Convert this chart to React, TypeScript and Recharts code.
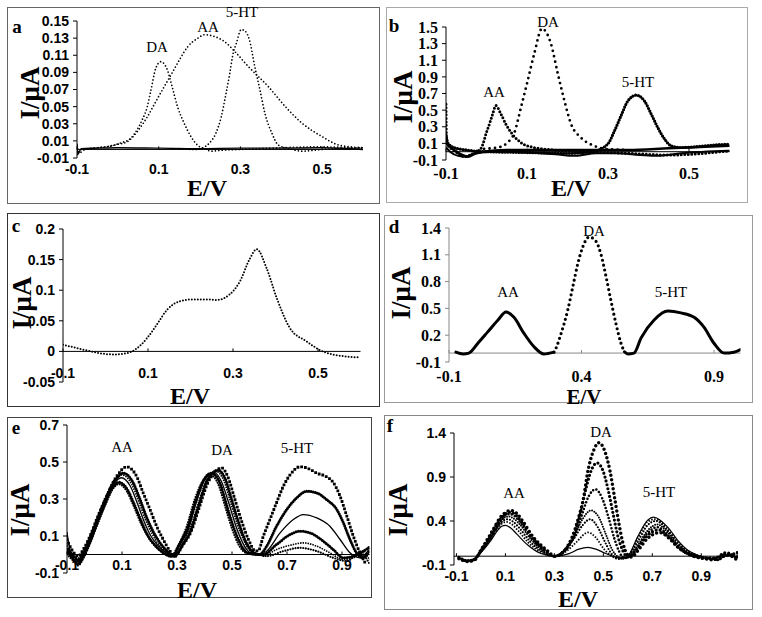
import React from 'react';
import { LineChart, Line, XAxis, YAxis, ReferenceLine } from 'recharts';

type P = [number, number];

// ---------------- panel a ----------------
const aTicksX = [-0.1, 0.1, 0.3, 0.5];
const aTicksY = [-0.01, 0.01, 0.03, 0.05, 0.07, 0.09, 0.11, 0.13, 0.15];
const aDA: P[] = [[-0.1, 0.005], [-0.095, -0.004], [-0.08, 0.0], [-0.05, 0.002], [-0.026, 0.003], [0.006, 0.0075], [0.031, 0.013], [0.047, 0.023], [0.059, 0.034], [0.072, 0.05], [0.08, 0.067], [0.093, 0.095], [0.105, 0.1025], [0.121, 0.093], [0.133, 0.073], [0.146, 0.05], [0.162, 0.031], [0.179, 0.015], [0.195, 0.005], [0.211, 0.001], [0.23, -0.002], [0.25, -0.001], [0.3, 0.0], [0.4, 0.002], [0.5, 0.003], [0.6, 0.001]];
const aAA: P[] = [[-0.1, -0.006], [-0.09, 0.0], [-0.05, 0.002], [-0.02, 0.004], [0.0, 0.006], [0.023, 0.009], [0.051, 0.023], [0.072, 0.038], [0.093, 0.056], [0.113, 0.073], [0.13, 0.087], [0.15, 0.104], [0.171, 0.12], [0.196, 0.13], [0.212, 0.134], [0.236, 0.132], [0.261, 0.126], [0.287, 0.114], [0.319, 0.097], [0.369, 0.073], [0.41, 0.05], [0.45, 0.031], [0.5, 0.015], [0.542, 0.005], [0.6, 0.002]];
const a5HT: P[] = [[0.15, 0.001], [0.19, 0.0], [0.208, 0.002], [0.224, 0.0075], [0.24, 0.019], [0.253, 0.038], [0.265, 0.066], [0.274, 0.089], [0.282, 0.112], [0.29, 0.124], [0.302, 0.14], [0.312, 0.138], [0.322, 0.128], [0.335, 0.097], [0.348, 0.069], [0.36, 0.042], [0.377, 0.019], [0.393, 0.005], [0.42, 0.001], [0.45, -0.002], [0.5, 0.0], [0.6, 0.002]];
const aBlank: P[] = [[-0.1, 0.006], [-0.098, -0.006], [-0.09, 0.001], [-0.05, 0.0015], [0.0, 0.002], [0.1, 0.0015], [0.2, 0.001], [0.3, 0.0015], [0.4, 0.0015], [0.5, 0.002], [0.6, 0.0]];

// ---------------- panel b ----------------
const bTicksX = [-0.1, 0.1, 0.3, 0.5];
const bTicksY = [-0.1, 0.1, 0.3, 0.5, 0.7, 0.9, 1.1, 1.3, 1.5];
const bDA: P[] = [[-0.006, 0.035], [0.028, 0.05], [0.052, 0.11], [0.069, 0.23], [0.085, 0.53], [0.1, 0.82], [0.118, 1.18], [0.137, 1.48], [0.159, 1.3], [0.176, 0.94], [0.192, 0.62], [0.209, 0.33], [0.233, 0.17], [0.266, 0.07], [0.299, 0.03], [0.35, 0.02]];
const bAA: P[] = [[-0.1, 0.57], [-0.099, 0.18], [-0.095, 0.08], [-0.085, 0.03], [-0.07, -0.02], [-0.055, -0.06], [-0.04, -0.04], [-0.025, 0.0], [-0.015, 0.03], [-0.009, 0.09], [-0.001, 0.22], [0.007, 0.33], [0.015, 0.45], [0.023, 0.555], [0.036, 0.45], [0.048, 0.33], [0.064, 0.21], [0.085, 0.11], [0.117, 0.05], [0.167, 0.02], [0.25, 0.0], [0.35, -0.02], [0.45, -0.04], [0.6, 0.01]];
const b5HT: P[] = [[-0.1, 0.2], [-0.095, 0.1], [-0.08, 0.05], [-0.05, 0.02], [0.0, 0.0], [0.1, -0.01], [0.2, -0.02], [0.26, 0.0], [0.299, 0.09], [0.316, 0.25], [0.332, 0.43], [0.349, 0.61], [0.37, 0.68], [0.39, 0.61], [0.407, 0.45], [0.423, 0.29], [0.44, 0.15], [0.456, 0.07], [0.48, 0.05], [0.52, 0.06], [0.56, 0.08], [0.6, 0.09]];
const bBase1: P[] = [[-0.1, 0.1], [-0.09, 0.06], [-0.08, 0.02], [-0.06, -0.04], [-0.045, -0.06], [-0.03, -0.03], [-0.01, 0.0], [0.05, 0.02], [0.15, 0.02], [0.25, 0.02], [0.35, 0.02], [0.45, 0.04], [0.6, 0.07]];
const bBase2: P[] = [[-0.1, 0.05], [-0.09, 0.0], [-0.07, -0.05], [-0.05, -0.06], [-0.03, -0.02], [0.02, 0.0], [0.1, -0.01], [0.17, -0.03], [0.22, -0.05], [0.27, -0.02], [0.32, -0.02], [0.38, -0.04], [0.42, -0.05], [0.48, -0.02], [0.6, 0.01]];

// ---------------- panel c ----------------
const cTicksX = [-0.1, 0.1, 0.3, 0.5];
const cTicksY = [-0.05, 0, 0.05, 0.1, 0.15, 0.2];
const cMix: P[] = [[-0.1, 0.011], [-0.053, 0.003], [-0.013, -0.003], [0.018, -0.005], [0.05, -0.003], [0.074, 0.005], [0.097, 0.021], [0.121, 0.044], [0.145, 0.068], [0.175, 0.082], [0.206, 0.085], [0.238, 0.085], [0.262, 0.084], [0.292, 0.093], [0.316, 0.114], [0.34, 0.152], [0.356, 0.167], [0.379, 0.136], [0.403, 0.087], [0.434, 0.038], [0.474, 0.016], [0.505, 0.002], [0.535, -0.005], [0.6, -0.01]];

// ---------------- panel d ----------------
const dTicksX = [-0.1, 0.4, 0.9];
const dTicksY = [-0.1, 0.2, 0.5, 0.8, 1.1, 1.4];
const dAA: P[] = [[-0.074, 0.01], [-0.047, -0.01], [-0.025, 0.0], [0.009, 0.11], [0.047, 0.24], [0.085, 0.37], [0.115, 0.46], [0.145, 0.4], [0.183, 0.22], [0.221, 0.07], [0.258, -0.01], [0.296, 0.01]];
const dDA: P[] = [[0.296, 0.01], [0.304, 0.056], [0.323, 0.22], [0.348, 0.48], [0.367, 0.74], [0.386, 1.0], [0.405, 1.19], [0.429, 1.3], [0.455, 1.25], [0.474, 1.1], [0.493, 0.85], [0.511, 0.59], [0.53, 0.33], [0.549, 0.11], [0.562, 0.015]];
const d5HT: P[] = [[0.562, 0.015], [0.575, -0.01], [0.598, 0.0], [0.625, 0.17], [0.674, 0.37], [0.726, 0.47], [0.775, 0.45], [0.825, 0.4], [0.862, 0.29], [0.9, 0.11], [0.938, 0.0], [0.975, 0.01], [1.0, 0.04]];

// ---------------- panel e ----------------
const eTicksX = [-0.1, 0.1, 0.3, 0.5, 0.7, 0.9];
const eTicksY = [-0.1, 0.1, 0.3, 0.5, 0.7];
const e1: P[] = [[-0.1, 0.08], [-0.083, 0.027], [-0.059, -0.009], [-0.041, 0.027], [-0.016, 0.1], [0.008, 0.19], [0.044, 0.315], [0.081, 0.423], [0.117, 0.474], [0.153, 0.423], [0.177, 0.333], [0.202, 0.243], [0.226, 0.153], [0.25, 0.081], [0.275, 0.018], [0.293, -0.009], [0.32, 0.05], [0.35, 0.12], [0.38, 0.25], [0.41, 0.38], [0.44, 0.45], [0.462, 0.468], [0.485, 0.42], [0.51, 0.3], [0.535, 0.18], [0.56, 0.08], [0.585, 0.02], [0.595, 0.02], [0.614, 0.099], [0.638, 0.19], [0.662, 0.28], [0.687, 0.37], [0.711, 0.43], [0.747, 0.474], [0.772, 0.468], [0.808, 0.44], [0.844, 0.42], [0.868, 0.39], [0.893, 0.315], [0.917, 0.21], [0.941, 0.1], [0.965, 0.01], [0.984, -0.045]];
const e2: P[] = [[-0.1, 0.03], [-0.08, 0.0], [-0.06, -0.03], [-0.04, 0.01], [-0.016, 0.09], [0.008, 0.18], [0.044, 0.31], [0.075, 0.4], [0.105, 0.44], [0.14, 0.39], [0.165, 0.3], [0.19, 0.2], [0.215, 0.12], [0.24, 0.06], [0.27, 0.01], [0.29, -0.01], [0.32, 0.05], [0.35, 0.13], [0.38, 0.27], [0.41, 0.4], [0.45, 0.455], [0.475, 0.41], [0.5, 0.29], [0.525, 0.17], [0.55, 0.07], [0.575, 0.015], [0.6, 0.0], [0.626, 0.045], [0.662, 0.153], [0.699, 0.243], [0.735, 0.306], [0.772, 0.342], [0.808, 0.333], [0.844, 0.297], [0.881, 0.243], [0.905, 0.171], [0.929, 0.081], [0.953, 0.009], [0.977, -0.018], [1.0, 0.02]];
const e3: P[] = [[-0.1, 0.12], [-0.085, 0.0], [-0.06, -0.04], [-0.04, 0.0], [-0.016, 0.08], [0.01, 0.18], [0.04, 0.29], [0.07, 0.38], [0.097, 0.415], [0.13, 0.37], [0.155, 0.28], [0.18, 0.18], [0.205, 0.1], [0.23, 0.05], [0.26, 0.01], [0.285, -0.01], [0.31, 0.05], [0.34, 0.13], [0.37, 0.28], [0.4, 0.4], [0.432, 0.445], [0.46, 0.4], [0.49, 0.27], [0.515, 0.15], [0.54, 0.06], [0.565, 0.01], [0.6, 0.0], [0.626, 0.018], [0.675, 0.117], [0.723, 0.189], [0.759, 0.216], [0.808, 0.198], [0.856, 0.153], [0.893, 0.081], [0.929, 0.009], [0.965, -0.018], [1.0, 0.03]];
const e4: P[] = [[-0.1, 0.02], [-0.08, -0.02], [-0.06, -0.05], [-0.04, -0.01], [-0.016, 0.07], [0.01, 0.17], [0.04, 0.28], [0.065, 0.36], [0.09, 0.39], [0.12, 0.35], [0.145, 0.27], [0.17, 0.18], [0.195, 0.1], [0.22, 0.05], [0.25, 0.01], [0.28, -0.01], [0.31, 0.06], [0.34, 0.15], [0.37, 0.3], [0.4, 0.41], [0.425, 0.44], [0.455, 0.39], [0.48, 0.27], [0.505, 0.15], [0.53, 0.06], [0.555, 0.01], [0.59, 0.0], [0.614, 0.0], [0.662, 0.054], [0.711, 0.108], [0.747, 0.126], [0.784, 0.117], [0.832, 0.072], [0.868, 0.027], [0.905, -0.018], [0.941, -0.009], [1.0, 0.04]];
const e5: P[] = [[-0.1, 0.05], [-0.08, 0.0], [-0.06, -0.02], [-0.04, 0.02], [-0.016, 0.1], [0.01, 0.2], [0.04, 0.31], [0.07, 0.4], [0.1, 0.43], [0.135, 0.38], [0.16, 0.29], [0.185, 0.19], [0.21, 0.11], [0.235, 0.05], [0.265, 0.01], [0.29, -0.01], [0.32, 0.06], [0.35, 0.15], [0.38, 0.29], [0.41, 0.41], [0.44, 0.45], [0.47, 0.4], [0.495, 0.28], [0.52, 0.16], [0.545, 0.07], [0.57, 0.015], [0.6, 0.0], [0.614, -0.009], [0.662, 0.027], [0.723, 0.054], [0.759, 0.063], [0.808, 0.045], [0.856, 0.009], [0.905, -0.027], [0.941, -0.018], [0.977, 0.018], [1.0, -0.03]];
const e6: P[] = [[-0.1, 0.0], [-0.08, -0.03], [-0.06, -0.06], [-0.04, -0.02], [-0.016, 0.06], [0.01, 0.16], [0.04, 0.27], [0.065, 0.35], [0.088, 0.38], [0.118, 0.34], [0.143, 0.26], [0.168, 0.17], [0.193, 0.1], [0.218, 0.05], [0.248, 0.01], [0.278, -0.01], [0.305, 0.05], [0.335, 0.15], [0.365, 0.3], [0.395, 0.4], [0.42, 0.43], [0.45, 0.38], [0.475, 0.26], [0.5, 0.14], [0.525, 0.05], [0.55, 0.01], [0.6, 0.0], [0.626, -0.009], [0.687, 0.018], [0.747, 0.036], [0.808, 0.018], [0.868, -0.018], [0.917, -0.036], [0.965, 0.009], [1.0, -0.05]];

// ---------------- panel f ----------------
const fTicksX = [-0.1, 0.1, 0.3, 0.5, 0.7, 0.9];
const fTicksY = [-0.1, 0.4, 0.9, 1.4];
const f1: P[] = [[-0.09, -0.02], [-0.054, -0.06], [-0.027, -0.045], [0.0, 0.07], [0.041, 0.26], [0.082, 0.45], [0.105, 0.505], [0.123, 0.52], [0.145, 0.49], [0.17, 0.4], [0.213, 0.22], [0.269, 0.068], [0.303, 0.0], [0.34, 0.06], [0.37, 0.2], [0.4, 0.45], [0.417, 0.63], [0.437, 0.97], [0.46, 1.2], [0.482, 1.29], [0.505, 1.2], [0.527, 0.97], [0.548, 0.63], [0.565, 0.35], [0.58, 0.15], [0.595, 0.03], [0.615, -0.01], [0.64, 0.06], [0.68, 0.2], [0.73, 0.27], [0.77, 0.2], [0.81, 0.09], [0.85, 0.02], [0.9, -0.02], [0.95, -0.04], [1.0, 0.02], [1.05, -0.05]];
const f2: P[] = [[-0.09, -0.03], [-0.054, -0.055], [-0.027, -0.04], [0.0, 0.065], [0.041, 0.25], [0.082, 0.43], [0.103, 0.485], [0.12, 0.5], [0.142, 0.47], [0.167, 0.385], [0.21, 0.21], [0.265, 0.06], [0.3, 0.0], [0.34, 0.06], [0.37, 0.18], [0.4, 0.42], [0.43, 0.78], [0.45, 0.97], [0.474, 1.06], [0.5, 0.96], [0.52, 0.75], [0.54, 0.48], [0.56, 0.22], [0.58, 0.06], [0.6, -0.01], [0.635, 0.07], [0.675, 0.22], [0.725, 0.3], [0.765, 0.22], [0.805, 0.1], [0.845, 0.03], [0.895, -0.02], [0.95, -0.03], [1.0, 0.04], [1.05, -0.03]];
const f3: P[] = [[-0.09, -0.01], [-0.054, -0.05], [-0.027, -0.035], [0.0, 0.06], [0.041, 0.24], [0.082, 0.41], [0.1, 0.465], [0.118, 0.48], [0.14, 0.45], [0.165, 0.37], [0.208, 0.2], [0.262, 0.055], [0.3, 0.0], [0.34, 0.06], [0.38, 0.22], [0.41, 0.45], [0.44, 0.68], [0.468, 0.76], [0.495, 0.66], [0.52, 0.45], [0.545, 0.2], [0.565, 0.05], [0.585, -0.02], [0.61, 0.0], [0.64, 0.1], [0.68, 0.26], [0.72, 0.33], [0.76, 0.25], [0.8, 0.12], [0.84, 0.04], [0.89, -0.01], [0.95, -0.02], [1.0, 0.0], [1.05, 0.05]];
const f4: P[] = [[-0.09, -0.02], [-0.054, -0.05], [-0.027, -0.03], [0.0, 0.055], [0.041, 0.22], [0.08, 0.39], [0.098, 0.44], [0.115, 0.45], [0.137, 0.42], [0.162, 0.35], [0.205, 0.19], [0.26, 0.05], [0.3, 0.0], [0.34, 0.07], [0.38, 0.22], [0.415, 0.42], [0.45, 0.52], [0.48, 0.45], [0.51, 0.25], [0.535, 0.08], [0.56, -0.01], [0.58, -0.03], [0.605, 0.0], [0.64, 0.12], [0.68, 0.29], [0.72, 0.36], [0.76, 0.28], [0.8, 0.14], [0.84, 0.05], [0.885, 0.0], [0.93, -0.03], [0.98, 0.0], [1.05, 0.03]];
const f5: P[] = [[-0.09, -0.03], [-0.054, -0.06], [-0.027, -0.04], [0.0, 0.05], [0.041, 0.21], [0.078, 0.37], [0.095, 0.41], [0.11, 0.42], [0.132, 0.39], [0.157, 0.32], [0.2, 0.17], [0.255, 0.045], [0.3, 0.0], [0.34, 0.06], [0.38, 0.2], [0.415, 0.35], [0.446, 0.42], [0.475, 0.34], [0.505, 0.17], [0.53, 0.04], [0.56, -0.03], [0.6, 0.0], [0.64, 0.16], [0.68, 0.35], [0.715, 0.4], [0.76, 0.3], [0.8, 0.16], [0.845, 0.055], [0.885, 0.005], [0.93, -0.025], [0.97, -0.045], [1.0, 0.01], [1.05, -0.01]];
const f6: P[] = [[-0.09, -0.01], [-0.054, -0.045], [-0.027, -0.03], [0.0, 0.045], [0.041, 0.2], [0.075, 0.34], [0.09, 0.38], [0.105, 0.39], [0.127, 0.36], [0.152, 0.29], [0.195, 0.15], [0.25, 0.04], [0.3, 0.0], [0.35, 0.06], [0.39, 0.16], [0.437, 0.27], [0.47, 0.21], [0.5, 0.09], [0.53, 0.01], [0.56, -0.03], [0.6, 0.0], [0.64, 0.2], [0.68, 0.39], [0.71, 0.42], [0.76, 0.32], [0.8, 0.17], [0.845, 0.06], [0.885, 0.01], [0.93, -0.02], [0.97, -0.04], [1.0, 0.02], [1.05, 0.0]];
const f7: P[] = [[-0.09, -0.02], [-0.054, -0.05], [-0.027, -0.035], [0.0, 0.04], [0.041, 0.18], [0.07, 0.3], [0.085, 0.34], [0.1, 0.35], [0.122, 0.32], [0.147, 0.25], [0.19, 0.13], [0.245, 0.03], [0.3, 0.0], [0.36, 0.03], [0.4, 0.08], [0.437, 0.1], [0.47, 0.08], [0.51, 0.03], [0.55, -0.01], [0.58, -0.02], [0.6, 0.0], [0.64, 0.22], [0.681, 0.41], [0.705, 0.445], [0.763, 0.33], [0.804, 0.18], [0.845, 0.068], [0.885, 0.011], [0.928, -0.02], [0.968, -0.045], [1.0, 0.011], [1.05, -0.02]];

// ---------------- rendering ----------------
const SANS = '"Liberation Sans", Arial, sans-serif';
const SERIF = '"Liberation Serif", "Times New Roman", serif';

interface Series { data: P[]; w: number; dash?: string; cap?: 'round' | 'square' | 'butt'; }
interface Note { text: string; x: number; y: number; }
interface PanelCfg {
  letter: string;
  letterPos: [number, number];
  box: [number, number, number, number];
  border: string;
  plot: [number, number, number, number];
  xDomain: [number, number];
  yDomain: [number, number];
  xTicks: number[];
  yTicks: number[];
  tickFont: string;
  tickSize: number;
  xLabelY: number;
  axisColor: string;
  series: Series[];
  notes: Note[];
  xTitle: [number, number];
  xTitleSize?: number;
  yTitle: [number, number];
}

const toXY = (arr: P[]) => arr.map(([x, y]) => ({ x, y }));

const dots = (data: P[], w: number, gap: number, cap: 'round' | 'square' = 'round'): Series => ({ data, w, dash: `0 ${gap}`, cap });
const solid = (data: P[], w: number): Series => ({ data, w });
const dashed = (data: P[], w: number, dash: string): Series => ({ data, w, dash, cap: 'butt' });

const panels: PanelCfg[] = [
  {
    letter: 'a', letterPos: [17, 26], box: [7, 7, 380, 204], border: '#666', plot: [77, 21, 363, 158],
    xDomain: [-0.1, 0.6], yDomain: [-0.01, 0.15], xTicks: aTicksX, yTicks: aTicksY,
    tickFont: SANS, tickSize: 14, xLabelY: 169, axisColor: '#000',
    series: [solid(aBlank, 1.4), dots(aDA, 1.7, 3.4), dots(aAA, 1.7, 3.4), dots(a5HT, 1.7, 3.4)],
    notes: [{ text: 'DA', x: 157, y: 47 }, { text: 'AA', x: 208, y: 27 }, { text: '5-HT', x: 242, y: 12 }],
    xTitle: [207, 188], yTitle: [30, 93],
  },
  {
    letter: 'b', letterPos: [394, 25], box: [386, 7, 748, 203], border: '#aaa', plot: [446, 27, 729.5, 160],
    xDomain: [-0.1, 0.6], yDomain: [-0.1, 1.5], xTicks: bTicksX, yTicks: bTicksY,
    tickFont: SERIF, tickSize: 16, xLabelY: 173, axisColor: '#000',
    series: [solid(bBase1, 2.5), solid(bBase2, 2), dots(bDA, 2.8, 5.5), dots(bAA, 3, 3.5), dots(b5HT, 3.2, 2.8)],
    notes: [{ text: 'DA', x: 548, y: 22 }, { text: 'AA', x: 494, y: 92 }, { text: '5-HT', x: 638, y: 82 }],
    xTitle: [571, 188], yTitle: [403, 97],
  },
  {
    letter: 'c', letterPos: [16, 225], box: [7, 213, 380, 407], border: '#333', plot: [63, 229, 360.5, 382],
    xDomain: [-0.1, 0.6], yDomain: [-0.05, 0.2], xTicks: cTicksX, yTicks: cTicksY,
    tickFont: SANS, tickSize: 14, xLabelY: 373, axisColor: '#000',
    series: [dots(cMix, 2, 3)],
    notes: [],
    xTitle: [190, 396], yTitle: [22, 303],
  },
  {
    letter: 'd', letterPos: [394, 226], box: [384, 215, 753, 403], border: '#999', plot: [449, 228, 740.5, 362],
    xDomain: [-0.1, 1.0], yDomain: [-0.1, 1.4], xTicks: dTicksX, yTicks: dTicksY,
    tickFont: SERIF, tickSize: 16, xLabelY: 376, axisColor: '#888',
    series: [solid(dAA, 3), dots(dDA, 3.2, 5), solid(d5HT, 3)],
    notes: [{ text: 'DA', x: 594, y: 231 }, { text: 'AA', x: 508, y: 292 }, { text: '5-HT', x: 671, y: 292 }],
    xTitle: [584, 397], xTitleSize: 21, yTitle: [401, 293],
  },
  {
    letter: 'e', letterPos: [16, 427], box: [7, 417, 372, 598], border: '#444', plot: [67, 425, 369.5, 573],
    xDomain: [-0.1, 1.0], yDomain: [-0.1, 0.7], xTicks: eTicksX, yTicks: eTicksY,
    tickFont: SANS, tickSize: 14, xLabelY: 565, axisColor: '#000',
    series: [dots(e1, 2.8, 3.8, 'square'), dots(e2, 3, 2.2), solid(e3, 1.3), dots(e4, 3, 2.4), dashed(e5, 1.6, '1.5 1'), dots(e6, 2.2, 2.6)],
    notes: [{ text: 'AA', x: 122, y: 447 }, { text: 'DA', x: 222, y: 450 }, { text: '5-HT', x: 297, y: 448 }],
    xTitle: [197, 590], yTitle: [20, 510],
  },
  {
    letter: 'f', letterPos: [390, 425], box: [384, 415, 753, 610], border: '#888', plot: [454, 433, 738, 565],
    xDomain: [-0.11, 1.05], yDomain: [-0.1, 1.4], xTicks: fTicksX, yTicks: fTicksY,
    tickFont: SANS, tickSize: 14, xLabelY: 576, axisColor: '#000',
    series: [dots(f1, 3.5, 4.5), dots(f2, 3.2, 4), dots(f3, 2.6, 3.5), dots(f4, 2, 2.5), dots(f5, 2.2, 3), dashed(f6, 1.8, '1.5 1.5'), solid(f7, 1.2)],
    notes: [{ text: 'DA', x: 601, y: 432 }, { text: 'AA', x: 514, y: 493 }, { text: '5-HT', x: 659, y: 492 }],
    xTitle: [578, 599], yTitle: [398, 510],
  },
];

const centered = (x: number, y: number, extra: React.CSSProperties = {}, transform = ''): React.CSSProperties => ({
  position: 'absolute', left: x, top: y, transform: `translate(-50%, -50%) ${transform}`,
  whiteSpace: 'nowrap', lineHeight: 1, color: '#000', ...extra,
});

function Panel({ cfg }: { cfg: PanelCfg }) {
  const [bl, bt, br, bb] = cfg.box;
  const [pl, pt, pr, pb] = cfg.plot;
  const W = br - bl;
  const H = bb - bt;
  const zeroY = pt - bt + ((cfg.yDomain[1] - 0) / (cfg.yDomain[1] - cfg.yDomain[0])) * (pb - pt);
  const labelOffset = cfg.xLabelY - pb;

  const XTick = (props: any) => {
    const { x, y, payload } = props;
    return (
      <g>
        <line x1={x} x2={x} y1={zeroY - 3} y2={zeroY} stroke={cfg.axisColor} strokeWidth={1} />
        <text x={x} y={y + labelOffset} textAnchor="middle" dominantBaseline="central"
          fontFamily={cfg.tickFont} fontSize={cfg.tickSize} fontWeight="bold" fill="#000">
          {String(payload.value)}
        </text>
      </g>
    );
  };

  return (
    <>
      <div style={{ position: 'absolute', left: bl, top: bt }}>
        <LineChart width={W} height={H} margin={{ top: pt - bt, right: br - pr, bottom: 0, left: 0 }}>
          <XAxis type="number" dataKey="x" domain={cfg.xDomain} ticks={cfg.xTicks} interval={0}
            allowDataOverflow axisLine={false} tickLine={false} tickSize={0} tickMargin={0}
            height={bb - pb} tick={<XTick />} />
          <YAxis type="number" dataKey="y" domain={cfg.yDomain} ticks={cfg.yTicks} interval={0}
            allowDataOverflow width={pl - bl} tickSize={4} tickMargin={4}
            axisLine={{ stroke: cfg.axisColor, strokeWidth: 1 }}
            tickLine={{ stroke: cfg.axisColor, strokeWidth: 1 }}
            tick={{ fontFamily: cfg.tickFont, fontSize: cfg.tickSize, fontWeight: 'bold', fill: '#000' }} />
          <ReferenceLine y={0} stroke={cfg.axisColor} strokeWidth={1} />
          {cfg.series.map((s, i) => (
            <Line key={i} data={toXY(s.data)} dataKey="y" type="monotone" stroke="#000"
              strokeWidth={s.w} strokeDasharray={s.dash} strokeLinecap={s.cap || 'round'}
              strokeLinejoin="round" dot={false} activeDot={false} isAnimationActive={false} />
          ))}
        </LineChart>
      </div>
      <div style={{ position: 'absolute', left: bl, top: bt, width: W, height: H, border: `1px solid ${cfg.border}`, boxSizing: 'border-box', pointerEvents: 'none' }} />
      <div style={centered(cfg.letterPos[0], cfg.letterPos[1], { fontFamily: SERIF, fontWeight: 'bold', fontSize: 19 })}>{cfg.letter}</div>
      <div style={centered(cfg.xTitle[0], cfg.xTitle[1], { fontFamily: SERIF, fontWeight: 'bold', fontSize: cfg.xTitleSize || 24 })}>E/V</div>
      <div style={centered(cfg.yTitle[0], cfg.yTitle[1], { fontFamily: SERIF, fontWeight: 'bold', fontSize: 27 }, 'rotate(-90deg)')}>I/μA</div>
      {cfg.notes.map((n, i) => (
        <div key={i} style={centered(n.x, n.y, { fontFamily: SERIF, fontSize: 15 })}>{n.text}</div>
      ))}
    </>
  );
}

export default function App() {
  return (
    <div style={{ position: 'absolute', left: 0, top: 0, width: 762, height: 617, background: '#fff', overflow: 'hidden' }}>
      {panels.map((p) => (
        <Panel key={p.letter} cfg={p} />
      ))}
    </div>
  );
}
